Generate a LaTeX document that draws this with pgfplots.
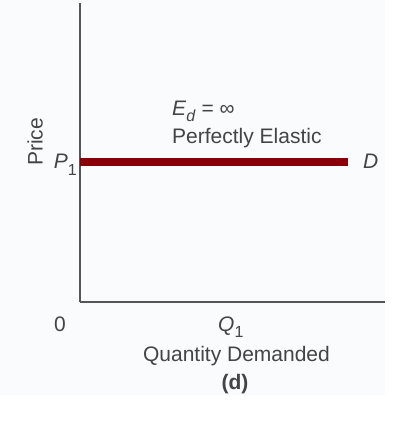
\documentclass[border=0pt]{standalone}
\usepackage{pgfplots}
\pgfplotsset{compat=1.18}
\usepackage{fontspec}
\setmainfont{Liberation Sans}
\definecolor{panelbg}{HTML}{FAFBFD}
\definecolor{txtgray}{HTML}{444444}
\definecolor{axgray}{HTML}{555555}
\definecolor{dred}{HTML}{8A0008}
\newcommand{\lowsub}[2][8pt]{\raisebox{-#1}{\fontsize{16}{16}\selectfont #2}}

\begin{document}
\begin{tikzpicture}[x=1pt,y=1pt]
% page = 413 x 426 px, origin at the axis corner
\useasboundingbox (-80,-124) rectangle (333,302);
\fill[panelbg] (-80,-93) rectangle (305,302);

\begin{axis}[
 at={(0,0)}, anchor=origin,
 scale only axis, width=305pt, height=299pt,
 xmin=0, xmax=305, ymin=0, ymax=299,
 axis x line=bottom, axis y line=left,
 axis line style={-, draw=axgray, line width=1.3pt},
 xtick=\empty, ytick=\empty,
 clip=false,
]
% demand curve
\addplot[dred, line width=7.5pt, line cap=butt, no marks]
 coordinates {(0,140) (268,140)};
\end{axis}

\begin{scope}[font=\fontsize{21}{24}\selectfont, text=txtgray]
\node[rotate=90] at (-45,160) {Price};
\node[anchor=base east, inner sep=0pt] at (-3,134) {\textit{P}\lowsub{1}};
\node[anchor=base west, inner sep=0pt] at (283,134) {\textit{D}};
\node[anchor=base west, inner sep=0pt] at (92,186) {\textit{E}\lowsub[6pt]{\textit{d}} = ∞};
\node[anchor=base west, inner sep=0pt] at (92,158) {Perfectly Elastic};
\node[anchor=base, inner sep=0pt] at (-20,-29) {0};
\node[anchor=base west, inner sep=0pt] at (138,-29) {\textit{Q}\lowsub[6pt]{1}};
\node[anchor=base, inner sep=0pt] at (156.5,-59) {Quantity Demanded};
\node[anchor=base, inner sep=0pt] at (155,-87) {\textbf{(d)}};
\end{scope}
\end{tikzpicture}
\end{document}
